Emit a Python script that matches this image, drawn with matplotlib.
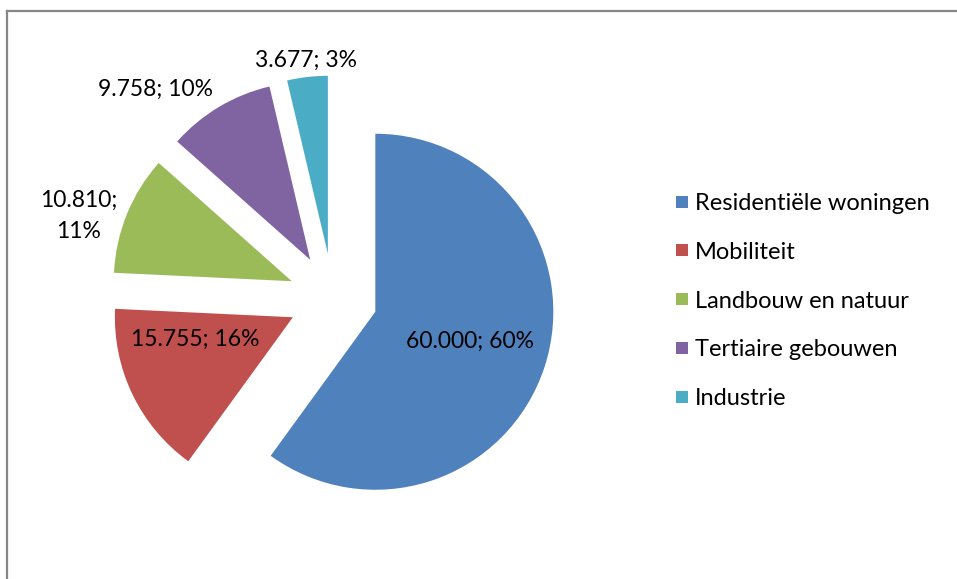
import matplotlib
matplotlib.use("Agg")
import matplotlib.pyplot as plt
from matplotlib.lines import Line2D

# Data-
labels = ["Residentiële woningen", "Mobiliteit", "Landbouw en natuur",
          "Tertiaire gebouwen", "Industrie"]
values = [60000, 15755, 10810, 9758, 3677]
value_text = ["60.000", "15.755", "10.810", "9.758", "3.677"]
pct_text = ["60%", "16%", "11%", "10%", "3%"]
colors = ["#4F81BD", "#C0504D", "#9BBB59", "#8064A2", "#4BACC6"]

plt.rcParams["font.family"] = ["Lato", "DejaVu Sans"]

W, H = 957, 579
fig = plt.figure(figsize=(W / 100, H / 100), dpi=100)
ax = fig.add_axes([0, 0, 1, 1])

# pie geometry in pixels-
cx, cy, r = 333, 298, 178

wedges, _ = ax.pie(values, colors=colors, startangle=90, counterclock=False,
                   explode=[0.25] * len(values), radius=1,
                   wedgeprops=dict(linewidth=0))

ax.set_xlim(-cx / r, (W - cx) / r)
ax.set_ylim(-(H - cy) / r, cy / r)
ax.set_aspect("auto")
ax.axis("off")

# Data labels (pixel positions)-
label_pos = [(470, 341), (195, 339), (79, 216), (156, 89), (306, 60)]
for i, (px, py) in enumerate(label_pos):
    if i == 2:
        txt = f"{value_text[i]};\n{pct_text[i]}"
    else:
        txt = f"{value_text[i]}; {pct_text[i]}"
    ax.text((px - cx) / r, (cy - py) / r, txt, ha="center", va="center",
            fontsize=16.5, color="black", linespacing=1.55)

# Legend-
handles = [Line2D([], [], marker="s", linestyle="", markersize=8.5,
                  markerfacecolor=c, markeredgewidth=0) for c in colors]
leg = fig.legend(handles, labels, loc="upper left",
                 bbox_to_anchor=(664 / W, 1 - 181 / H), frameon=False,
                 fontsize=17, handlelength=0.5, handletextpad=0.3,
                 labelspacing=1.18, borderpad=0)

# Outer border-
fig.add_artist(Line2D([7 / W, 7 / W], [0, 1 - 11 / H], transform=fig.transFigure,
                      color="#868686", linewidth=1.6))
fig.add_artist(Line2D([7 / W, 1], [1 - 11 / H, 1 - 11 / H], transform=fig.transFigure,
                      color="#868686", linewidth=1.6))

fig.savefig("out.png", dpi=100)
